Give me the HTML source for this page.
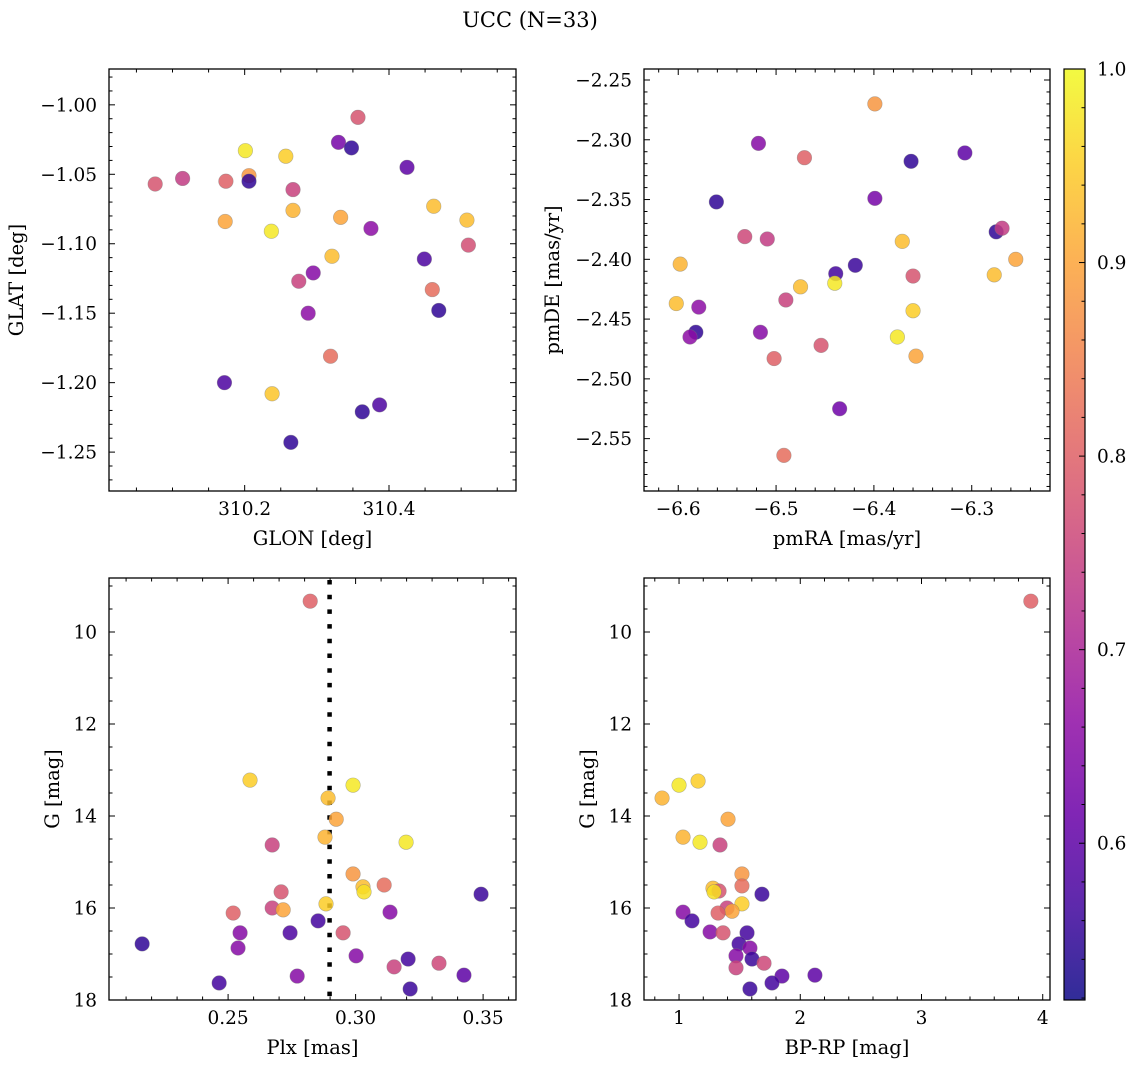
<!DOCTYPE html>
<html><head><meta charset="utf-8"><style>
html,body{margin:0;padding:0;background:#fff;}
svg text{font-family:"DejaVu Serif","Liberation Serif",serif;fill:#000;}
</style></head><body>
<svg id="fig" xmlns="http://www.w3.org/2000/svg" width="1136" height="1068" viewBox="0 0 1136 1068">
<defs><linearGradient id="cbgrad" x1="0" y1="1" x2="0" y2="0"></linearGradient></defs>
<text x="530" y="27" font-size="21" text-anchor="middle">UCC (N=33)</text>
</svg>
<script>
// ---- Panel 1: GLON vs GLAT ----
const glon1 = [310.076,310.114,310.174,310.206,310.206,310.201,310.257,310.267,310.173,310.237,310.267,310.333,310.330,310.348,310.357,310.375,310.425,310.462,310.508,310.510,310.449,310.321,310.295,310.275,310.288,310.460,310.469,310.319,310.172,310.238,310.363,310.387,310.264];
const glat1 = [-1.057,-1.053,-1.055,-1.051,-1.055,-1.033,-1.037,-1.061,-1.084,-1.091,-1.076,-1.081,-1.027,-1.031,-1.009,-1.089,-1.045,-1.073,-1.083,-1.101,-1.111,-1.109,-1.121,-1.127,-1.150,-1.133,-1.148,-1.181,-1.200,-1.208,-1.221,-1.216,-1.243];
const prob1 = [0.78,0.74,0.80,0.88,0.55,0.98,0.95,0.75,0.90,0.98,0.92,0.90,0.63,0.55,0.78,0.66,0.60,0.93,0.93,0.77,0.58,0.93,0.65,0.75,0.66,0.82,0.55,0.82,0.58,0.94,0.55,0.58,0.55];
// ---- Panel 2: pmRA vs pmDE ----
const pmra2 = [-6.399,-6.518,-6.471,-6.362,-6.307,-6.561,-6.399,-6.532,-6.509,-6.371,-6.275,-6.269,-6.598,-6.255,-6.419,-6.439,-6.440,-6.475,-6.360,-6.277,-6.602,-6.579,-6.490,-6.360,-6.582,-6.588,-6.516,-6.454,-6.376,-6.502,-6.357,-6.435,-6.492];
const pmde2 = [-2.270,-2.303,-2.315,-2.318,-2.311,-2.352,-2.349,-2.381,-2.383,-2.385,-2.377,-2.374,-2.404,-2.400,-2.405,-2.412,-2.420,-2.423,-2.414,-2.413,-2.437,-2.440,-2.434,-2.443,-2.461,-2.465,-2.461,-2.472,-2.465,-2.483,-2.481,-2.525,-2.564];
const prob2 = [0.88,0.65,0.80,0.55,0.60,0.55,0.63,0.76,0.74,0.93,0.55,0.74,0.92,0.90,0.56,0.57,0.98,0.93,0.78,0.93,0.93,0.66,0.75,0.95,0.55,0.66,0.65,0.78,0.98,0.80,0.90,0.62,0.82];
// ---- Panel 3: Plx vs G ----
const plx3 = [0.2163,0.2465,0.2520,0.2547,0.2539,0.2673,0.2708,0.2716,0.2743,0.2771,0.2853,0.2884,0.2951,0.2990,0.3029,0.3033,0.3002,0.3112,0.3135,0.3151,0.3206,0.3214,0.3327,0.3425,0.3492,0.2822,0.2586,0.2990,0.2892,0.2924,0.2880,0.2673,0.3198];
const gmag3 = [16.78,17.63,16.11,16.54,16.87,16.00,15.65,16.04,16.54,17.48,16.28,15.91,16.54,15.26,15.54,15.65,17.04,15.50,16.09,17.28,17.11,17.76,17.20,17.46,15.70,9.33,13.22,13.33,13.61,14.07,14.46,14.63,14.57];
const prob3 = [0.55,0.57,0.80,0.65,0.65,0.75,0.78,0.90,0.58,0.65,0.57,0.95,0.78,0.88,0.93,0.97,0.65,0.82,0.65,0.75,0.57,0.56,0.76,0.60,0.56,0.80,0.95,0.98,0.93,0.90,0.92,0.75,0.98];
const plxMedian = [0.2898];
// ---- Panel 4: BP-RP vs G ----
const bprp4 = [0.860,1.000,1.157,1.404,1.033,1.173,1.338,1.519,1.519,1.280,1.330,1.289,1.684,1.519,1.396,1.437,1.033,1.322,1.107,1.256,1.363,1.561,1.495,1.585,1.470,1.602,1.701,1.470,1.849,2.121,1.767,1.585,3.902];
const gmag4 = [13.61,13.33,13.24,14.07,14.46,14.57,14.63,15.26,15.52,15.57,15.63,15.65,15.70,15.91,16.00,16.07,16.09,16.11,16.28,16.52,16.54,16.54,16.78,16.87,17.04,17.11,17.20,17.30,17.48,17.46,17.63,17.76,9.33];
const prob4 = [0.92,0.98,0.95,0.90,0.92,0.98,0.75,0.88,0.82,0.93,0.78,0.97,0.56,0.95,0.75,0.90,0.65,0.80,0.57,0.65,0.78,0.57,0.57,0.65,0.65,0.56,0.76,0.75,0.60,0.60,0.57,0.56,0.80];
// ---- tick labels ----
const xt1 = [310.2,310.4], yt1 = [-1.00,-1.05,-1.10,-1.15,-1.20,-1.25];
const xt2 = [-6.6,-6.5,-6.4,-6.3], yt2 = [-2.25,-2.30,-2.35,-2.40,-2.45,-2.50,-2.55];
const xt3 = [0.25,0.30,0.35], yt3 = [10,12,14,16,18];
const xt4 = [1,2,3,4], yt4 = [10,12,14,16,18];
const cbTicks = [0.6,0.7,0.8,0.9,1.0];
const cbMin = 0.519, cbMax = 1.0;

const NS = "http://www.w3.org/2000/svg";
const svg = document.getElementById('fig');
function mk(tag, attrs, parent){ const e=document.createElementNS(NS,tag); for(const k in attrs) e.setAttribute(k,attrs[k]); (parent||svg).appendChild(e); return e; }

const plasma = [[13,8,135],[65,4,157],[106,0,168],[143,13,164],[177,42,144],[204,71,120],[225,100,98],[242,132,75],[252,166,54],[252,206,37],[240,249,33]];
function cmap(t){ t=Math.max(0,Math.min(1,t)); const f=t*10, i=Math.min(9,Math.floor(f)), r=f-i;
  const a=plasma[i], b=plasma[i+1]; return 'rgb('+a.map((v,k)=>Math.round(v+(b[k]-v)*r)).join(',')+')'; }
function cnorm(c){ return (c-cbMin)/(cbMax-cbMin); }
function fmt(v,d){ const s=Math.abs(v).toFixed(d); return (v<0?'\u2212':'')+s; }

function panel(cfg){
  const {name,x0,x1,y0,y1,xmin,xmax,yTop,yBot} = cfg;
  const sx = v => x0+(v-xmin)/(xmax-xmin)*(x1-x0);
  const sy = v => y0+(v-yTop)/(yBot-yTop)*(y1-y0);
  const g = mk('g',{});
  
  
  const ylo=Math.min(yTop,yBot), yhi=Math.max(yTop,yBot);
  for(let k=Math.ceil(xmin/cfg.xminor-1e-6); k*cfg.xminor<=xmax+1e-9; k++){
    const v=k*cfg.xminor, X=sx(v);
    const isMaj = Math.abs(v/cfg.xmajor-Math.round(v/cfg.xmajor))<1e-6;
    const L = isMaj?6:3.5;
    const t1=mk('line',{x1:X,x2:X,y1:y1,y2:y1-L,stroke:'#000','stroke-width':1},g);
     
    mk('line',{x1:X,x2:X,y1:y0,y2:y0+L,stroke:'#000','stroke-width':1},g);
  }
  for(let k=Math.ceil(ylo/cfg.yminor-1e-6); k*cfg.yminor<=yhi+1e-9; k++){
    const v=k*cfg.yminor, Y=sy(v);
    const isMaj = Math.abs(v/cfg.ymajor-Math.round(v/cfg.ymajor))<1e-6;
    const L = isMaj?6:3.5;
    const t2=mk('line',{x1:x0,x2:x0+L,y1:Y,y2:Y,stroke:'#000','stroke-width':1},g);
     
    mk('line',{x1:x1,x2:x1-L,y1:Y,y2:Y,stroke:'#000','stroke-width':1},g);
  }
  cfg.xt.forEach(v=>{ const t=mk('text',{x:sx(v),y:y1+24,'font-size':18.5,'text-anchor':'middle'},g); t.textContent=fmt(v,cfg.xd);
      });
  cfg.yt.forEach(v=>{ const t=mk('text',{x:x0-12,y:sy(v)+6.5,'font-size':18.5,'text-anchor':'end'},g); t.textContent=fmt(v,cfg.yd);
      });
  const xl=mk('text',{x:(x0+x1)/2,y:y1+54,'font-size':19.5,'text-anchor':'middle'},g); xl.textContent=cfg.xlabel;
   
  const yl=mk('text',{x:0,y:0,'font-size':19.5,'text-anchor':'middle',transform:'translate('+cfg.ylx+','+((y0+y1)/2)+') rotate(-90)'},g); yl.textContent=cfg.ylabel;
   
  if(cfg.vline!==undefined){
    const vl=mk('line',{x1:sx(cfg.vline),x2:sx(cfg.vline),y1:y0+2,y2:y1,stroke:'#000','stroke-width':4.5,'stroke-dasharray':'4.5 10.2'},g);
     
  }
  for(let i=0;i<cfg.xs.length;i++){
    const c=mk('circle',{cx:sx(cfg.xs[i]),cy:sy(cfg.ys[i]),r:7.3,fill:cmap(cnorm(cfg.cs[i])),'fill-opacity':0.85,stroke:'#777','stroke-opacity':0.5,'stroke-width':0.6},g);
    
    
  }
  const fr=mk('rect',{x:x0,y:y0,width:x1-x0,height:y1-y0,fill:'none',stroke:'#000','stroke-width':1.3},g);
   
}

panel({name:'glon-glat',x0:109,x1:516,y0:69,y1:491,xmin:310.012,xmax:310.576,yTop:-0.9742,yBot:-1.278,
  xmajor:0.2,xminor:0.05,ymajor:0.05,yminor:0.01,xt:xt1,yt:yt1,xd:1,yd:2,xlabel:'GLON [deg]',ylabel:'GLAT [deg]',ylx:23,
  xs:glon1,ys:glat1,cs:prob1});
panel({name:'pmra-pmde',x0:644,x1:1050,y0:69,y1:491,xmin:-6.635,xmax:-6.220,yTop:-2.2408,yBot:-2.5938,
  xmajor:0.1,xminor:0.02,ymajor:0.05,yminor:0.01,xt:xt2,yt:yt2,xd:1,yd:2,xlabel:'pmRA [mas/yr]',ylabel:'pmDE [mas/yr]',ylx:559,
  xs:pmra2,ys:pmde2,cs:prob2});
panel({name:'plx-g',x0:109,x1:516,y0:578,y1:1000,xmin:0.2033,xmax:0.3629,yTop:8.826,yBot:18,
  xmajor:0.05,xminor:0.01,ymajor:2,yminor:0.5,xt:xt3,yt:yt3,xd:2,yd:0,xlabel:'Plx [mas]',ylabel:'G [mag]',ylx:59,
  xs:plx3,ys:gmag3,cs:prob3,vline:plxMedian[0]});
panel({name:'bprp-g',x0:644,x1:1050,y0:578,y1:1000,xmin:0.711,xmax:4.06,yTop:8.826,yBot:18,
  xmajor:1,xminor:0.2,ymajor:2,yminor:0.5,xt:xt4,yt:yt4,xd:0,yd:0,xlabel:'BP-RP [mag]',ylabel:'G [mag]',ylx:594,
  xs:bprp4,ys:gmag4,cs:prob4});

// ---- colorbar ----
const grad=document.getElementById('cbgrad');
for(let i=0;i<=20;i++){ const t=i/20; mk('stop',{offset:t,'stop-color':cmap(t)},grad); }
const cbx0=1064, cbx1=1085, cby0=69, cby1=1000;
const cb=mk('rect',{x:cbx0,y:cby0,width:cbx1-cbx0,height:cby1-cby0,fill:'url(#cbgrad)','fill-opacity':0.85,stroke:'#000','stroke-width':1.2});


const cy = v => cby1-(v-cbMin)/(cbMax-cbMin)*(cby1-cby0);
for(let k=Math.ceil(cbMin/0.02); k*0.02<=cbMax+1e-9; k++){
  const v=k*0.02, Y=cy(v); const maj=Math.abs(v*10-Math.round(v*10))<1e-6;
  mk('line',{x1:cbx1,x2:cbx1-(maj?6:3.5),y1:Y,y2:Y,stroke:'#000','stroke-width':1});
}
cbTicks.forEach(v=>{ const t=mk('text',{x:1097,y:cy(v)+6.5,'font-size':18.5}); t.textContent=v.toFixed(1);
    });
</script>
</body></html>
